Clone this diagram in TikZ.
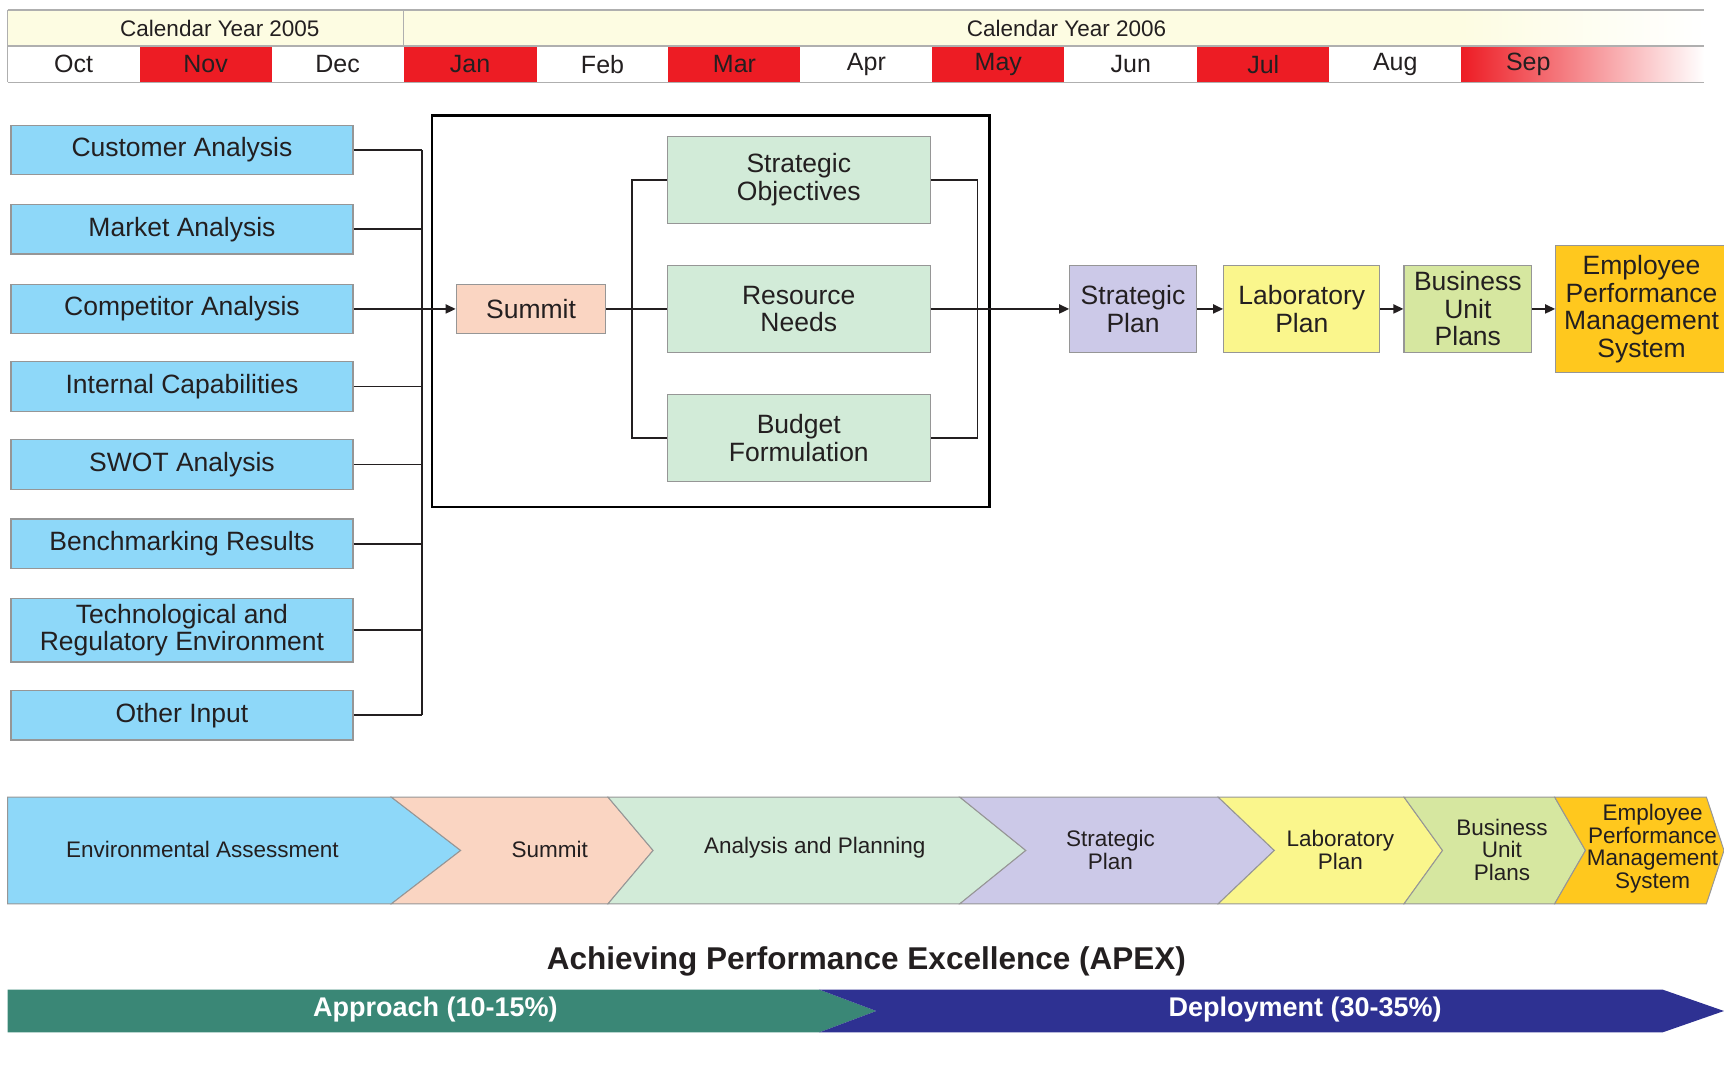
\documentclass[tikz,border=0pt]{standalone}
\usepackage{fontspec}
\setmainfont{Liberation Sans}
\usetikzlibrary{arrows.meta}
\definecolor{cBlue}{RGB}{142,216,249}
\definecolor{cSalmon}{RGB}{250,213,194}
\definecolor{cMint}{RGB}{210,235,216}
\definecolor{cLav}{RGB}{204,201,232}
\definecolor{cYel}{RGB}{250,246,140}
\definecolor{cLime}{RGB}{214,231,160}
\definecolor{cGold}{RGB}{255,200,30}
\definecolor{cRed}{RGB}{237,28,36}
\definecolor{cCream}{RGB}{253,252,226}
\definecolor{cTeal}{RGB}{58,135,118}
\definecolor{cNavy}{RGB}{46,49,146}
\definecolor{cText}{RGB}{35,31,32}
\definecolor{cEdge}{RGB}{150,150,150}
\definecolor{cHdr}{RGB}{175,175,175}
\newcommand\FMain{\fontsize{26.5}{27.5}\selectfont}
\newcommand\FYear{\fontsize{22.5}{24}\selectfont}
\newcommand\FMonth{\fontsize{25}{27}\selectfont}
\newcommand\FChev{\fontsize{22.5}{22.7}\selectfont}
\newcommand\FTitle{\fontsize{31.5}{33}\selectfont\bfseries}
\newcommand\FBar{\fontsize{27}{29}\selectfont\bfseries}
\begin{document}
\begin{tikzpicture}[x=1.0995pt,y=-1.0995pt,
  wh/.style 2 args={minimum width=#1*1.0995pt,minimum height=#2*1.0995pt},
  box/.style={draw=cEdge,line width=1.2pt,inner sep=0pt,align=center,font=\FMain,text=cText},
  inbox/.style={box,fill=cBlue,wh={311}{45}},
  mbox/.style={box,fill=cMint,wh={239}{79}},
  mon/.style={inner sep=0pt,font=\FMonth,text=cText,wh={120}{33}},
  conn/.style={line width=1.8pt,draw=cText},
  arr/.style={conn,-{Triangle[length=10pt,width=9pt]}},
  chev/.style={draw=cEdge,line width=1pt},
  chevlab/.style={font=\FChev,text=cText,align=center},
  hdr/.style={draw=cHdr,line width=1.6pt}]
\useasboundingbox (0,0) rectangle (1568,988);

% ---------- header ----------
\fill[cCream] (7,9) rectangle (1330,42);
\shade[left color=cCream,right color=white] (1329,9) rectangle (1550,42);
\shade[left color=cRed,right color=white] (1329,42) rectangle (1550,75);
\node[mon] (m1) at (67,58.5) {Oct};
\node[mon,fill=cRed] (m2) at (187,58.5) {Nov};
\node[mon] (m3) at (307,58.5) {Dec};
\node[mon,fill=cRed,wh={121}{33}] (m4) at (427.5,58.5) {Jan};
\node[mon] (m5) at (548,58.5) {Feb};
\node[mon,fill=cRed] (m6) at (668,58.5) {Mar};
\node[mon] (m7) at (788,58.5) {Apr};
\node[mon,fill=cRed] (m8) at (908,58.5) {May};
\node[mon,wh={121}{33}] (m9) at (1028.5,58.5) {Jun};
\node[mon,fill=cRed] (m10) at (1149,58.5) {Jul};
\node[mon] (m11) at (1269,58.5) {Aug};
\node[inner sep=0pt,font=\FMonth,text=cText] (m12) at (1390,58.5) {Sep};
\node[font=\FYear,text=cText] (y05) at (200,25.5) {Calendar Year 2005};
\node[font=\FYear,text=cText] (y06) at (970,25.5) {Calendar Year 2006};
\draw[hdr] (7,9) -- (1550,9);
\draw[hdr] (7,42) -- (1550,42);
\draw[hdr] (7,75) -- (1550,75);
\draw[hdr] (7,9) -- (7,75);
\draw[hdr] (367,9) -- (367,42);

% ---------- left inputs ----------
\node[inbox] (ca) at (165.5,136.5) {Customer Analysis};
\node[inbox] (ma) at (165.5,208.5) {Market Analysis};
\node[inbox] (cpa) at (165.5,281) {Competitor Analysis};
\node[inbox] (ic) at (165.5,351.5) {Internal Capabilities};
\node[inbox] (sw) at (165.5,422.5) {SWOT Analysis};
\node[inbox] (br) at (165.5,494.5) {Benchmarking Results};
\node[inbox,wh={311}{58}] (tr) at (165.5,573) {Technological and\\Regulatory Environment};
\node[inbox] (oi) at (165.5,650.5) {Other Input};

% ---------- summit frame ----------
\node[draw=black,line width=2.6pt,inner sep=0pt,wh={507}{356}] (frame) at (646.5,283) {};
\node[box,fill=cSalmon,wh={136}{44}] (summit) at (483,281) {Summit};
\node[mbox] (so) at (726.5,163.5) {Strategic\\Objectives};
\node[mbox] (rn) at (726.5,281) {Resource\\Needs};
\node[mbox] (bf) at (726.5,398.5) {Budget\\Formulation};

% ---------- plan chain ----------
\node[box,fill=cLav,wh={115}{79}] (sp) at (1030.5,281) {Strategic\\Plan};
\node[box,fill=cYel,wh={142}{79}] (lp) at (1184,281) {Laboratory\\Plan};
\node[box,fill=cLime,wh={116}{79}] (bu) at (1335,281) {Business\\Unit\\Plans};
\node[box,fill=cGold,wh={156}{116}] (ep) at (1493,281) {Employee\\Performance\\Management\\System};

% ---------- connectors ----------
\coordinate (busL) at (384,0);
\coordinate (busI) at (575,0);
\coordinate (busO) at (889,0);
\foreach \n in {ca,ma,ic,sw,br,tr,oi} \draw[conn] (\n.east) -- (\n.east -| busL);
\draw[conn] (ca.east -| busL) -- (oi.east -| busL);
\draw[arr] (cpa.east) -- (summit.west);
\draw[conn] (so.west) -- (so.west -| busI) -- (bf.west -| busI) -- (bf.west);
\draw[conn] (summit.east) -- (rn.west);
\draw[conn] (so.east) -- (so.east -| busO) -- (bf.east -| busO) -- (bf.east);
\draw[arr] (rn.east) -- (sp.west);
\draw[arr] (sp.east) -- (lp.west);
\draw[arr] (lp.east) -- (bu.west);
\draw[arr] (bu.east) -- (ep.west);

% ---------- chevrons ----------
\filldraw[chev,fill=cBlue] (7,725) -- (356,725) -- (419,773.5) -- (356,822) -- (7,822) -- cycle;
\filldraw[chev,fill=cSalmon] (356,725) -- (553,725) -- (594,773.5) -- (553,822) -- (356,822) -- (419,773.5) -- cycle;
\filldraw[chev,fill=cMint] (553,725) -- (873,725) -- (933,773.5) -- (873,822) -- (553,822) -- (594,773.5) -- cycle;
\filldraw[chev,fill=cLav] (873,725) -- (1108,725) -- (1159,773.5) -- (1108,822) -- (873,822) -- (933,773.5) -- cycle;
\filldraw[chev,fill=cYel] (1108,725) -- (1277,725) -- (1312,773.5) -- (1277,822) -- (1108,822) -- (1159,773.5) -- cycle;
\filldraw[chev,fill=cLime] (1277,725) -- (1414,725) -- (1442,773.5) -- (1414,822) -- (1277,822) -- (1312,773.5) -- cycle;
\filldraw[chev,fill=cGold] (1414,725) -- (1552,725) -- (1568,773.5) -- (1552,822) -- (1414,822) -- (1442,773.5) -- cycle;
\node[chevlab] (c1) at (184,773) {Environmental Assessment};
\node[chevlab] (c2) at (500,773) {Summit};
\node[chevlab] (c3) at (741,771) {Analysis and Planning};
\node[chevlab] (c4) at (1010,773) {Strategic\\Plan};
\node[chevlab] (c5) at (1219,773) {Laboratory\\Plan};
\node[chevlab] (c6) at (1366,773) {Business\\Unit\\Plans};
\node[chevlab] (c7) at (1503,772) {Employee\\Performance\\Management\\System};

% ---------- APEX ----------
\node[font=\FTitle,text=cText] (title) at (788,874) {Achieving Performance Excellence (APEX)};
\fill[cTeal] (7,900) -- (745,900) -- (797,919.5) -- (745,939) -- (7,939) -- cycle;
\fill[cNavy] (745,900) -- (1512,900) -- (1568,919.5) -- (1512,939) -- (745,939) -- (797,919.5) -- cycle;
\node[font=\FBar,text=white] (appr) at (396,918) {Approach (10-15\%)};
\node[font=\FBar,text=white] (depl) at (1187,918) {Deployment (30-35\%)};
\end{tikzpicture}
\end{document}
